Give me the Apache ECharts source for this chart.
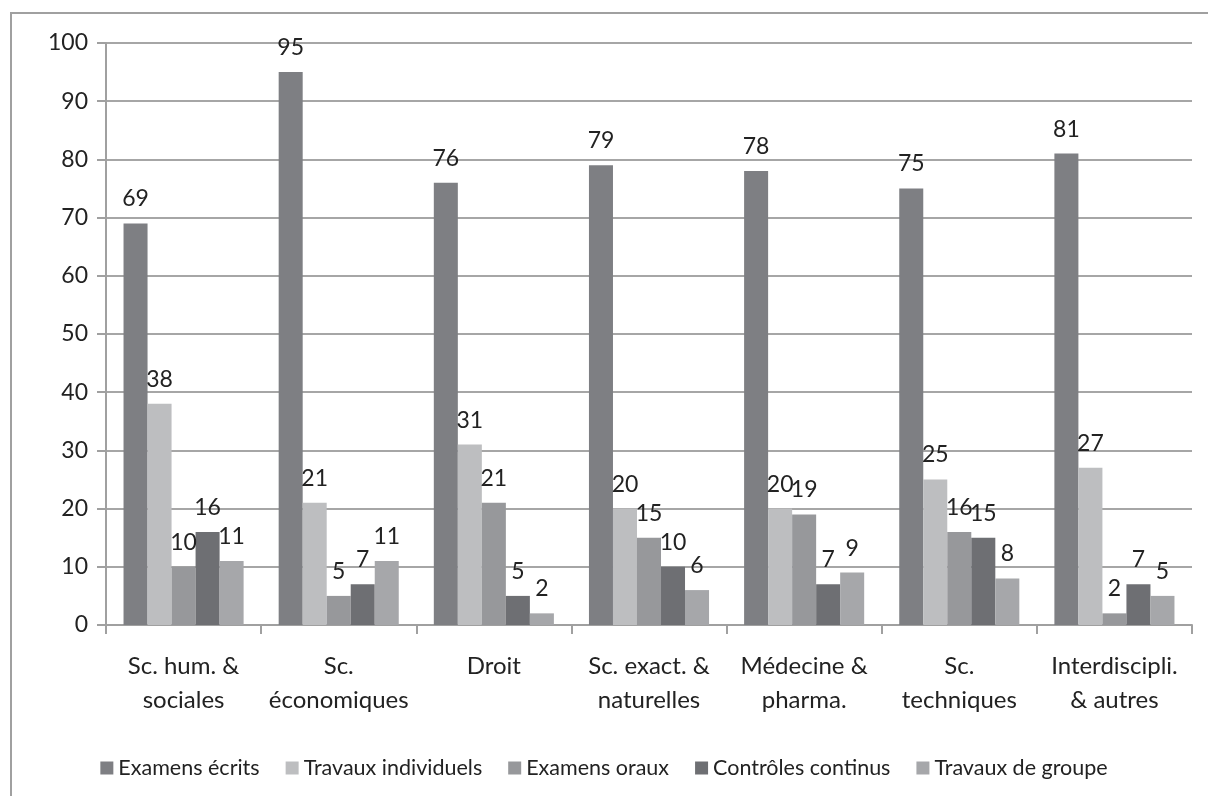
<!DOCTYPE html>
<html>
<head>
<meta charset="utf-8">
<script src="https://cdn.jsdelivr.net/npm/echarts@6/dist/echarts.min.js"></script>
<style>
  html, body { margin: 0; padding: 0; background: #fff; }
  #chart { width: 1208px; height: 796px; }
</style>
</head>
<body>
<div id="chart"></div>
<script>
// Assessment methods by field of study (%)
const categories = [
  'Sc. hum. &\nsociales',
  'Sc.\néconomiques',
  'Droit',
  'Sc. exact. &\nnaturelles',
  'Médecine &\npharma.',
  'Sc.\ntechniques',
  'Interdiscipli.\n& autres'
];
const seriesNames = [
  'Examens écrits',
  'Travaux individuels',
  'Examens oraux',
  'Contrôles continus',
  'Travaux de groupe'
];
const examensEcrits      = [69, 95, 76, 79, 78, 75, 81];
const travauxIndividuels = [38, 21, 31, 20, 20, 25, 27];
const examensOraux       = [10, 5, 21, 15, 19, 16, 2];
const controlesContinus  = [16, 7, 5, 10, 7, 15, 7];
const travauxDeGroupe    = [11, 11, 2, 6, 9, 8, 5];
const yTicks = [0, 10, 20, 30, 40, 50, 60, 70, 80, 90, 100];

const seriesValues = [examensEcrits, travauxIndividuels, examensOraux, controlesContinus, travauxDeGroupe];
const colors = ['#7e7f83', '#bdbec0', '#97989b', '#6e6f73', '#a6a7aa'];
const FONT = 'Lato';
const TEXT = '#222';

const chart = echarts.init(document.getElementById('chart'));
chart.setOption({
  animation: false,
  backgroundColor: '#fff',
  textStyle: { fontFamily: FONT },
  graphic: [{
    type: 'rect',
    shape: { x: 11, y: 13, width: 1220, height: 820 },
    style: { fill: 'none', stroke: '#a0a0a0', lineWidth: 2 },
    silent: true
  }],
  grid: { left: 106, right: 16, top: 43, bottom: 171 },
  legend: {
    data: seriesNames,
    left: 'center',
    top: 752,
    icon: 'rect',
    itemWidth: 13,
    itemHeight: 13,
    itemGap: 26,
    textStyle: { fontFamily: FONT, fontSize: 21.5, color: TEXT }
  },
  xAxis: {
    type: 'category',
    data: categories,
    boundaryGap: true,
    axisLine: { lineStyle: { color: '#a0a0a0', width: 2 } },
    axisTick: { show: true, length: 9, lineStyle: { color: '#a0a0a0', width: 2 } },
    axisLabel: { interval: 0, fontFamily: FONT, fontSize: 24, color: TEXT, margin: 24, lineHeight: 34 }
  },
  yAxis: {
    type: 'value',
    min: 0,
    max: 100,
    interval: 10,
    axisLine: { show: true, lineStyle: { color: '#a0a0a0', width: 2 } },
    axisTick: { show: true, length: 9, lineStyle: { color: '#a0a0a0', width: 2 } },
    axisLabel: {
      fontFamily: FONT, fontSize: 23, color: TEXT, margin: 18,
      formatter: v => (yTicks.includes(v) ? String(v) : '')
    },
    splitLine: { lineStyle: { color: '#a6a6a6', width: 2 } }
  },
  series: seriesNames.map((name, i) => ({
    name,
    type: 'bar',
    data: seriesValues[i],
    itemStyle: { color: colors[i] },
    barGap: '0%',
    barCategoryGap: '22.6%',
    label: {
      show: true,
      position: 'top',
      distance: 13,
      fontFamily: FONT,
      fontSize: 23,
      color: TEXT
    }
  }))
});
</script>
</body>
</html>
